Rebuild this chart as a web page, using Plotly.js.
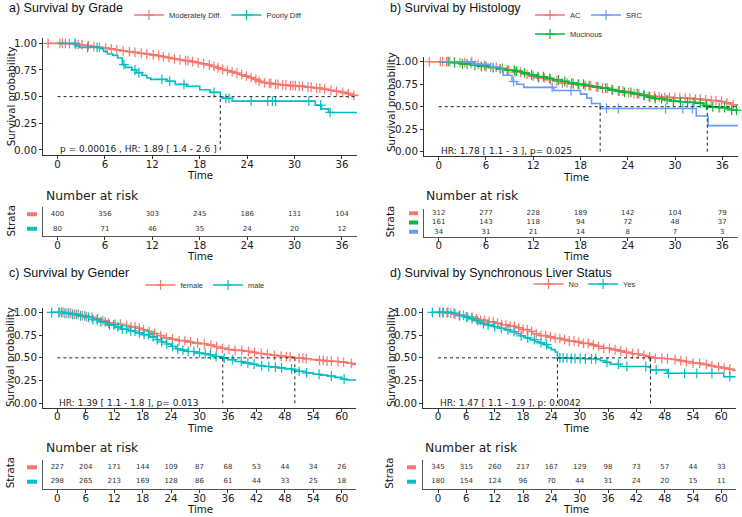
<!DOCTYPE html>
<html>
<head>
<meta charset="utf-8">
<script src="https://cdn.plot.ly/plotly-3.0.1.min.js"></script>
<style>
  html, body { margin: 0; padding: 0; background: #fff; }
  #chart { width: 742px; height: 517px; }
</style>
</head>
<body>
<div id="chart"></div>
<script>
// ---------- Kaplan-Meier estimates (months, survival probability) ----------

// a) Grade
const gradeModTime = [-1.3, 1.2, 2.0, 2.8, 3.5, 4.3, 5.0, 5.8, 6.5, 7.2, 8.0, 8.8, 9.5, 10.3, 11.0, 11.8, 12.5, 13.2, 13.9, 14.6, 15.3, 16.0, 16.8, 17.5, 18.2, 18.9, 19.5, 20.1, 20.6, 21.2, 21.8, 22.4, 23.0, 23.6, 24.2, 24.8, 25.3, 25.8, 26.5, 27.3, 28.2, 29.2, 30.3, 31.4, 32.5, 33.5, 34.3, 35.0, 35.8, 36.5, 37.2, 37.9];
const gradeModSurv = [1.0, 0.997, 0.99, 0.985, 0.978, 0.97, 0.962, 0.955, 0.948, 0.94, 0.93, 0.922, 0.915, 0.907, 0.9, 0.892, 0.884, 0.875, 0.866, 0.855, 0.846, 0.838, 0.828, 0.818, 0.808, 0.797, 0.783, 0.77, 0.757, 0.745, 0.732, 0.72, 0.706, 0.692, 0.678, 0.662, 0.646, 0.632, 0.624, 0.616, 0.61, 0.603, 0.596, 0.588, 0.58, 0.57, 0.56, 0.55, 0.54, 0.528, 0.512, 0.506];
const gradeModCens = [-1.2, 0.3, 0.6, 1.0, 1.5, 2.3, 2.6, 3.1, 3.9, 4.6, 5.3, 6.1, 6.8, 7.5, 8.3, 9.1, 9.8, 10.6, 11.3, 12.1, 12.8, 13.4, 14.1, 14.8, 15.5, 16.2, 16.5, 17.1, 17.8, 18.5, 19.2, 19.8, 20.3, 20.9, 21.5, 22.1, 22.7, 23.3, 23.9, 24.5, 25.1, 25.5, 26.2, 26.8, 27.0, 27.6, 27.9, 28.5, 28.9, 29.5, 29.8, 30.1, 30.6, 31.0, 31.7, 32.1, 32.8, 33.2, 33.8, 34.6, 35.3, 36.1, 36.8, 37.5];
const gradePoorTime = [0, 2.3, 2.8, 5.3, 5.8, 6.3, 7.0, 7.6, 8.2, 8.6, 9.4, 10.0, 10.7, 11.3, 11.8, 13.9, 14.9, 16.3, 18.0, 19.3, 20.6, 21.0, 22.1, 32.6, 33.4, 34.3, 37.9];
const gradePoorSurv = [1.0, 0.975, 0.962, 0.95, 0.925, 0.9, 0.887, 0.862, 0.8, 0.775, 0.75, 0.725, 0.7, 0.675, 0.662, 0.645, 0.615, 0.597, 0.565, 0.54, 0.497, 0.483, 0.458, 0.42, 0.385, 0.352, 0.352];
const gradePoorCens = [2.2, 3.8, 5.0, 8.4, 9.8, 10.3, 13.2, 14.2, 16.0, 19.8, 21.3, 21.7, 24.5, 26.6, 27.2, 27.6, 31.8, 33.3, 34.5];

// b) Histology
const histACTime = [-1.4, 1.5, 2.5, 3.5, 4.5, 5.5, 6.5, 7.5, 8.5, 9.5, 10.5, 11.5, 12.5, 13.5, 14.5, 15.5, 16.5, 17.5, 18.5, 19.5, 20.5, 21.5, 22.5, 23.5, 24.5, 25.5, 26.5, 27.5, 28.5, 29.5, 30.5, 31.5, 32.5, 33.5, 34.5, 35.5, 36.5, 37.3, 38.0];
const histACSurv = [1.0, 0.995, 0.99, 0.98, 0.97, 0.955, 0.94, 0.925, 0.905, 0.885, 0.86, 0.84, 0.82, 0.8, 0.782, 0.765, 0.752, 0.742, 0.732, 0.72, 0.705, 0.688, 0.672, 0.656, 0.642, 0.628, 0.618, 0.61, 0.604, 0.6, 0.596, 0.592, 0.585, 0.576, 0.568, 0.558, 0.543, 0.522, 0.518];
const histACCens = [-1.2, 0.2, 0.5, 1.0, 1.4, 2.0, 2.7, 3.3, 4.1, 5.0, 5.8, 6.6, 7.3, 8.1, 8.9, 9.7, 10.4, 11.2, 12.0, 12.7, 13.4, 14.2, 15.0, 15.7, 16.3, 17.1, 17.8, 18.6, 19.3, 20.0, 20.8, 21.4, 22.1, 22.8, 23.4, 24.1, 24.8, 25.4, 26.0, 26.7, 27.4, 28.0, 28.7, 29.3, 30.0, 30.6, 31.3, 31.9, 32.6, 33.2, 33.9, 34.6, 35.2, 35.9, 36.6, 37.4];
const histMucTime = [0, 1.5, 2.8, 4.0, 5.2, 6.3, 7.4, 8.5, 9.8, 10.6, 11.5, 12.5, 13.5, 14.5, 15.5, 16.5, 17.5, 18.5, 19.5, 20.5, 21.5, 22.5, 23.5, 24.5, 25.5, 26.5, 27.5, 28.5, 29.5, 30.5, 31.5, 32.5, 33.6, 34.1, 35.5, 36.5, 37.2, 38.0];
const histMucSurv = [1.0, 0.99, 0.975, 0.96, 0.948, 0.935, 0.92, 0.905, 0.895, 0.875, 0.855, 0.835, 0.815, 0.798, 0.782, 0.765, 0.75, 0.735, 0.72, 0.706, 0.69, 0.675, 0.66, 0.645, 0.625, 0.605, 0.59, 0.578, 0.563, 0.555, 0.548, 0.54, 0.515, 0.498, 0.49, 0.478, 0.463, 0.463];
const histMucCens = [1.2, 2.0, 3.0, 3.6, 4.6, 5.4, 6.0, 6.9, 7.8, 8.7, 9.6, 9.9, 10.9, 11.8, 12.6, 13.3, 14.1, 15.2, 16.0, 16.9, 17.7, 18.4, 19.1, 20.2, 21.2, 22.0, 22.9, 23.6, 24.4, 25.2, 26.1, 26.8, 27.5, 28.3, 29.0, 29.8, 30.7, 31.6, 32.4, 33.2, 34.0, 34.8, 35.6, 36.3, 37.2, 37.8];
const histSRCTime = [0, 4.4, 6.5, 7.9, 8.2, 9.3, 9.9, 10.8, 14.6, 18.0, 18.8, 19.4, 20.5, 32.7, 34.2, 38.0];
const histSRCSurv = [1.0, 0.97, 0.94, 0.91, 0.85, 0.78, 0.75, 0.715, 0.68, 0.64, 0.595, 0.535, 0.48, 0.396, 0.29, 0.29];
const histSRCCens = [4.2, 9.5, 14.4, 16.8, 21.3, 22.8, 28.8, 31.0, 32.2];

// c) Gender
const femaleTime = [0, 1.5, 3.0, 4.5, 6.0, 7.5, 9.0, 10.5, 12.0, 13.5, 15.0, 16.5, 18.0, 19.0, 19.8, 21.0, 22.5, 24.0, 25.5, 27.0, 28.5, 30.0, 31.5, 33.0, 34.5, 36.0, 37.5, 39.0, 40.5, 42.0, 43.5, 45.0, 46.5, 48.0, 49.5, 50.1, 52.0, 53.5, 55.0, 56.5, 58.0, 59.5, 61.0, 62.2, 63.0];
const femaleSurv = [1.0, 0.99, 0.978, 0.965, 0.948, 0.93, 0.91, 0.885, 0.87, 0.855, 0.84, 0.825, 0.808, 0.79, 0.768, 0.745, 0.72, 0.705, 0.69, 0.675, 0.665, 0.655, 0.64, 0.622, 0.605, 0.592, 0.582, 0.572, 0.56, 0.548, 0.538, 0.528, 0.52, 0.512, 0.505, 0.497, 0.49, 0.48, 0.472, 0.465, 0.46, 0.452, 0.44, 0.428, 0.428];
const femaleCens = [0.5, 1.2, 2.0, 2.8, 3.6, 4.4, 5.3, 6.2, 7.3, 8.5, 9.6, 10.8, 12.2, 13.3, 14.6, 15.5, 16.4, 17.3, 18.2, 19.4, 20.5, 21.8, 23.0, 24.3, 25.7, 26.9, 28.1, 29.6, 31.0, 32.4, 33.6, 34.8, 36.2, 37.5, 38.9, 40.3, 41.6, 43.0, 44.3, 45.8, 47.2, 48.3, 49.1, 51.0, 51.8, 52.5, 55.3, 56.1, 56.9, 57.8, 59.2, 60.4, 62.0];
const maleTime = [-1.5, 1.5, 3.0, 4.5, 6.0, 7.5, 9.0, 10.5, 12.0, 13.5, 15.0, 16.5, 18.0, 19.5, 21.0, 22.0, 23.0, 24.0, 25.0, 26.0, 27.5, 29.0, 30.5, 32.0, 33.5, 34.9, 36.0, 37.5, 39.0, 40.5, 42.0, 43.5, 45.0, 46.5, 48.0, 49.5, 51.0, 52.5, 54.0, 55.5, 57.0, 58.5, 60.0, 61.0, 63.0];
const maleSurv = [1.0, 0.99, 0.978, 0.962, 0.945, 0.92, 0.895, 0.862, 0.84, 0.815, 0.795, 0.775, 0.755, 0.73, 0.7, 0.675, 0.652, 0.625, 0.6, 0.585, 0.57, 0.555, 0.545, 0.532, 0.515, 0.497, 0.48, 0.46, 0.445, 0.43, 0.415, 0.405, 0.398, 0.39, 0.378, 0.366, 0.352, 0.335, 0.32, 0.31, 0.3, 0.285, 0.265, 0.256, 0.256];
const maleCens = [-1.2, 0.3, 0.9, 1.6, 2.4, 3.2, 4.0, 4.9, 5.8, 6.6, 7.5, 8.4, 9.2, 10.1, 11.0, 11.9, 12.8, 13.7, 14.6, 15.5, 16.4, 17.3, 18.3, 19.2, 20.2, 21.1, 22.0, 23.1, 24.3, 25.4, 26.5, 27.6, 28.8, 30.0, 31.2, 32.3, 33.5, 35.2, 37.0, 38.8, 40.2, 41.5, 43.1, 44.6, 46.0, 47.3, 49.4, 51.0, 52.6, 55.2, 57.8, 60.5];

// d) Synchronous liver metastasis
const liverNoTime = [0, 1.5, 3.0, 4.5, 6.0, 7.5, 9.0, 10.5, 12.0, 13.5, 15.0, 16.5, 18.0, 19.0, 20.0, 21.5, 23.0, 24.5, 26.0, 27.5, 29.0, 30.5, 32.0, 33.5, 35.0, 36.5, 38.0, 39.5, 41.0, 42.5, 44.0, 45.0, 46.5, 48.0, 49.5, 51.0, 52.5, 54.0, 55.5, 57.0, 58.5, 60.0, 61.5, 62.5, 63.0];
const liverNoSurv = [1.0, 0.993, 0.982, 0.968, 0.948, 0.928, 0.912, 0.895, 0.88, 0.864, 0.848, 0.83, 0.81, 0.79, 0.765, 0.745, 0.73, 0.714, 0.7, 0.685, 0.672, 0.658, 0.643, 0.625, 0.605, 0.59, 0.575, 0.56, 0.545, 0.528, 0.513, 0.498, 0.495, 0.49, 0.482, 0.47, 0.458, 0.443, 0.428, 0.413, 0.4, 0.388, 0.375, 0.362, 0.362];
const liverNoCens = [0.4, 1.1, 1.9, 2.7, 3.6, 4.5, 5.4, 6.3, 7.2, 8.1, 9.0, 9.9, 10.8, 11.7, 12.6, 13.5, 14.4, 15.3, 16.2, 17.1, 18.0, 18.9, 19.8, 20.8, 21.8, 22.8, 23.8, 24.8, 25.8, 26.8, 27.8, 28.8, 29.8, 30.8, 31.8, 32.9, 34.0, 35.1, 36.3, 37.5, 38.7, 39.9, 41.2, 42.4, 43.6, 44.8, 46.0, 47.4, 48.6, 50.2, 51.4, 52.6, 54.0, 55.4, 56.8, 58.0, 59.4, 60.6, 61.8];
const liverYesTime = [-1.4, 3.0, 4.5, 5.5, 6.5, 7.5, 8.5, 9.5, 10.5, 11.8, 13.0, 14.2, 15.3, 16.5, 17.5, 18.5, 19.5, 20.5, 21.5, 22.5, 23.3, 24.0, 24.8, 25.3, 28.0, 31.0, 33.7, 34.4, 35.5, 36.5, 38.6, 44.5, 45.0, 48.5, 60.5, 63.0];
const liverYesSurv = [1.0, 0.99, 0.965, 0.95, 0.93, 0.91, 0.89, 0.875, 0.86, 0.842, 0.825, 0.808, 0.788, 0.765, 0.742, 0.72, 0.7, 0.68, 0.665, 0.645, 0.612, 0.59, 0.565, 0.498, 0.493, 0.49, 0.483, 0.47, 0.45, 0.43, 0.405, 0.398, 0.368, 0.33, 0.293, 0.293];
const liverYesCens = [-1.2, 0.3, 1.0, 2.1, 3.4, 4.6, 6.0, 7.2, 8.4, 9.6, 10.6, 12.0, 13.4, 14.8, 16.1, 17.6, 19.0, 20.4, 21.8, 23.0, 25.8, 26.5, 27.3, 28.2, 29.0, 30.1, 31.2, 32.5, 33.4, 35.8, 38.2, 40.0, 44.0, 46.2, 48.8, 52.2, 54.8, 58.0, 61.8];

// ---------- Number at risk ----------
const riskTimesShort = [0, 6, 12, 18, 24, 30, 36];
const riskTimesLong = [0, 6, 12, 18, 24, 30, 36, 42, 48, 54, 60];
const riskGradeMod = [400, 356, 303, 245, 186, 131, 104];
const riskGradePoor = [80, 71, 46, 35, 24, 20, 12];
const riskHistAC = [312, 277, 228, 189, 142, 104, 79];
const riskHistMuc = [161, 143, 118, 94, 72, 48, 37];
const riskHistSRC = [34, 31, 21, 14, 8, 7, 3];
const riskFemale = [227, 204, 171, 144, 109, 87, 68, 53, 44, 34, 26];
const riskMale = [298, 265, 213, 169, 128, 86, 61, 44, 33, 25, 18];
const riskLiverNo = [345, 315, 260, 217, 167, 129, 98, 73, 57, 44, 33];
const riskLiverYes = [180, 154, 124, 96, 70, 44, 31, 24, 20, 15, 11];

// ---------- Medians (null = not reached) and test statistics ----------
const medGrade = [null, 20.6];
const medHist = [null, 34.1, 20.5];
const medGender = [50.1, 34.9];
const medLiver = [45.0, 25.3];
const statGrade = 'p = 0.00016 , HR: 1.89 [ 1.4 - 2.6 ]';
const statHist = 'HR: 1.78 [ 1.1 - 3 ], p= 0.025';
const statGender = 'HR: 1.39 [ 1.1 - 1.8 ], p= 0.013';
const statLiver = 'HR: 1.47 [ 1.1 - 1.9 ], p: 0.0042';

const probTicks = [0, 0.25, 0.5, 0.75, 1];
const probLabels = ['0.00', '0.25', '0.50', '0.75', '1.00'];

// ---------- styling ----------
const RED = '#F8766D', TEAL = '#00BFC4', GREEN = '#00BA38', BLUE = '#619CFF';
const FONT = 'DejaVu Sans, sans-serif';
const TITLE_FONT = 'Liberation Sans, Arial, sans-serif';
const W = 742, H = 517;
const fx = v => v / W;          // pixel -> paper x
const fy = v => 1 - v / H;      // pixel -> paper y

function stepAt(ts, ss, t) {
  let v = ss[0];
  for (let i = 0; i < ts.length; i++) { if (ts[i] <= t) v = ss[i]; }
  return v;
}

const panels = [
  {
    title: 'a) Survival by Grade', stat: statGrade, medians: medGrade, riskTimes: riskTimesShort,
    strata: [
      { name: 'Moderately Diff.', color: RED, t: gradeModTime, s: gradeModSurv, c: gradeModCens, risk: riskGradeMod, legend: 'legend' },
      { name: 'Poorly Diff', color: TEAL, t: gradePoorTime, s: gradePoorSurv, c: gradePoorCens, risk: riskGradePoor, legend: 'legend' }
    ],
    xDom: [43, 357], xRange: [-1.84, 37.9], kmY: [38, 155.3], tblY: [207, 236], swatch: [-16, -6],
    titlePos: [7, 8], yTitle: [10.5, 96.7], xTitle: [200, 175], nar: [44, 195], strataPos: [10, 221.5], tblXTitle: [200, 256]
  },
  {
    title: 'b) Survival by Histology', stat: statHist, medians: medHist, riskTimes: riskTimesShort,
    strata: [
      { name: 'AC', color: RED, t: histACTime, s: histACSurv, c: histACCens, risk: riskHistAC, legend: 'legend2' },
      { name: 'Mucinous', color: GREEN, t: histMucTime, s: histMucSurv, c: histMucCens, risk: riskHistMuc, legend: 'legend3' },
      { name: 'SRC', color: BLUE, t: histSRCTime, s: histSRCSurv, c: histSRCCens, risk: riskHistSRC, legend: 'legend2' }
    ],
    xDom: [424, 738], xRange: [-1.87, 38.0], kmY: [57.2, 156.2], tblY: [208.6, 236.5], swatch: [-15, -6],
    titlePos: [387.7, 8], yTitle: [391, 102], xTitle: [576, 176.5], nar: [424, 195], strataPos: [389.5, 221.7], tblXTitle: [576, 256]
  },
  {
    title: 'c) Survival by Gender', stat: statGender, medians: medGender, riskTimes: riskTimesLong,
    strata: [
      { name: 'female', color: RED, t: femaleTime, s: femaleSurv, c: femaleCens, risk: riskFemale, legend: 'legend4' },
      { name: 'male', color: TEAL, t: maleTime, s: maleSurv, c: maleCens, risk: riskMale, legend: 'legend4' }
    ],
    xDom: [43, 356], xRange: [-3.02, 63.0], kmY: [307.8, 407.9], tblY: [460.1, 488.9], swatch: [-16, -6],
    titlePos: [7, 273.3], yTitle: [10, 357], xTitle: [200, 428], nar: [44, 447.3], strataPos: [10, 473.3], tblXTitle: [200, 509]
  },
  {
    title: 'd) Survival by Synchronous Liver Status', stat: statLiver, medians: medLiver, riskTimes: riskTimesLong,
    strata: [
      { name: 'No', color: RED, t: liverNoTime, s: liverNoSurv, c: liverNoCens, risk: riskLiverNo, legend: 'legend5' },
      { name: 'Yes', color: TEAL, t: liverYesTime, s: liverYesSurv, c: liverYesCens, risk: riskLiverYes, legend: 'legend5' }
    ],
    xDom: [423, 736], xRange: [-3.18, 63.1], kmY: [307.8, 407.9], tblY: [460.1, 488.9], swatch: [-16, -7],
    titlePos: [387.7, 273.3], yTitle: [391, 357], xTitle: [576, 428], nar: [423.3, 447.3], strataPos: [389.5, 473.3], tblXTitle: [576, 509]
  }
];

const traces = [];
const annotations = [];
const shapes = [];
const layout = {
  width: W, height: H,
  margin: { l: 0, r: 0, t: 0, b: 0, pad: 0 },
  paper_bgcolor: '#fff', plot_bgcolor: '#fff',
  showlegend: true,
  font: { family: FONT, color: '#222' },
  annotations: annotations,
  shapes: shapes
};

const tickFont = { family: FONT, size: 10.3, color: '#222' };
function baseAxis() {
  return {
    showgrid: false, zeroline: false, showline: true, linecolor: '#333', linewidth: 1,
    ticks: 'outside', ticklen: 3, tickwidth: 1, tickcolor: '#333',
    tickfont: tickFont, fixedrange: true
  };
}

function addText(text, x, y, opts) {
  annotations.push(Object.assign({
    text: text, x: fx(x), y: fy(y), xref: 'paper', yref: 'paper',
    showarrow: false, xanchor: 'center', yanchor: 'middle',
    font: { family: FONT, size: 10.3, color: '#111' }
  }, opts || {}));
}

panels.forEach((p, i) => {
  const kmN = 2 * i + 1, tbN = 2 * i + 2;
  const kx = kmN === 1 ? 'x' : 'x' + kmN, ky = kmN === 1 ? 'y' : 'y' + kmN;
  const tx = 'x' + tbN, ty = 'y' + tbN;
  const kxName = kmN === 1 ? 'xaxis' : 'xaxis' + kmN, kyName = kmN === 1 ? 'yaxis' : 'yaxis' + kmN;
  const n = p.strata.length;
  const domW = p.xDom[1] - p.xDom[0];

  layout[kxName] = Object.assign(baseAxis(), {
    domain: [fx(p.xDom[0]), fx(p.xDom[1])], range: p.xRange, anchor: ky, tickvals: p.riskTimes,
    ticklabelstandoff: -4
  });
  layout[kyName] = Object.assign(baseAxis(), {
    domain: [fy(p.kmY[1]), fy(p.kmY[0])], range: [-0.05, 1.05], anchor: kx,
    tickvals: probTicks, ticktext: probLabels
  });
  layout['xaxis' + tbN] = Object.assign(baseAxis(), {
    domain: [fx(p.xDom[0]), fx(p.xDom[1])], range: p.xRange, anchor: ty, tickvals: p.riskTimes,
    linecolor: '#555', linewidth: 1.3, ticklabelstandoff: -4
  });
  layout['yaxis' + tbN] = Object.assign(baseAxis(), {
    domain: [fy(p.tblY[1]), fy(p.tblY[0])], range: [0.5, n + 0.5], anchor: tx,
    showticklabels: false, ticks: '', linecolor: '#555', linewidth: 1.3
  });

  // colour keys for the table rows
  p.strata.forEach((s, k) => {
    shapes.push({
      type: 'rect', xref: tx + ' domain', yref: ty,
      x0: p.swatch[0] / domW, x1: p.swatch[1] / domW,
      ysizemode: 'pixel', yanchor: n - k, y0: -2, y1: 2,
      fillcolor: s.color, line: { width: 0 }, layer: 'above'
    });
  });

  // survival curves and censoring marks
  p.strata.forEach(s => {
    traces.push({
      x: s.t, y: s.s, xaxis: kx, yaxis: ky, mode: 'lines',
      line: { shape: 'hv', color: s.color, width: 1.6 },
      showlegend: false, hoverinfo: 'skip'
    });
    traces.push({
      x: s.c, y: s.c.map(t => stepAt(s.t, s.s, t)), xaxis: kx, yaxis: ky, mode: 'markers',
      marker: { symbol: 'cross-thin-open', size: 7, color: s.color, line: { color: s.color, width: 1.2 } },
      showlegend: false, hoverinfo: 'skip', cliponaxis: false
    });
  });

  // median survival guides
  const meds = p.medians.filter(m => m !== null);
  const lastTime = Math.max(...p.strata.map(s => s.t[s.t.length - 1]));
  const hEnd = meds.length === p.medians.length ? Math.max(...meds) : lastTime;
  const dashStyle = { color: '#222', width: 1, dash: '3px,3px' };
  traces.push({ x: [0, hEnd], y: [0.5, 0.5], xaxis: kx, yaxis: ky, mode: 'lines', line: dashStyle, showlegend: false, hoverinfo: 'skip' });
  meds.forEach(m => {
    traces.push({ x: [m, m], y: [0, 0.5], xaxis: kx, yaxis: ky, mode: 'lines', line: dashStyle, showlegend: false, hoverinfo: 'skip' });
  });

  // legend keys
  p.strata.forEach(s => {
    traces.push({
      x: [null], y: [null], xaxis: kx, yaxis: ky, mode: 'lines+markers', name: s.name, legend: s.legend,
      line: { color: s.color, width: 1.6 },
      marker: { symbol: 'cross-thin-open', size: 7, color: s.color, line: { color: s.color, width: 1.2 } },
      showlegend: true, hoverinfo: 'skip'
    });
  });

  // number at risk table
  p.strata.forEach((s, k) => {
    traces.push({
      x: p.riskTimes, y: p.riskTimes.map(() => n - k), xaxis: tx, yaxis: ty, mode: 'text',
      text: s.risk.map(String), textposition: 'middle center',
      textfont: { family: FONT, size: 7, color: '#333' },
      showlegend: false, hoverinfo: 'skip', cliponaxis: false
    });
  });

  // statistic label inside the plot
  annotations.push({
    text: p.stat, x: 0, y: 0.005, xref: kx, yref: ky, xanchor: 'left', yanchor: 'middle',
    showarrow: false, font: { family: FONT, size: 9, color: '#222' }
  });

  addText(p.title, p.titlePos[0], p.titlePos[1], { xanchor: 'left', font: { family: TITLE_FONT, size: 12.5, color: '#111' } });
  addText('Survival probability', p.yTitle[0], p.yTitle[1], { textangle: -90, font: { family: FONT, size: 10.3, color: '#111' } });
  addText('Time', p.xTitle[0], p.xTitle[1]);
  addText('Number at risk', p.nar[0], p.nar[1], { xanchor: 'left', font: { family: FONT, size: 12.4, color: '#222' } });
  addText('Strata', p.strataPos[0], p.strataPos[1], { textangle: -90 });
  addText('Time', p.tblXTitle[0], p.tblXTitle[1]);
});

// one legend per panel (histology uses two rows)
const legendBase = {
  orientation: 'h', xanchor: 'center', yanchor: 'middle', bgcolor: 'rgba(0,0,0,0)',
  font: { family: TITLE_FONT, size: 7.5, color: '#333' }, itemwidth: 30, tracegroupgap: 0
};
layout.legend = Object.assign({}, legendBase, { x: fx(218), y: fy(15) });
layout.legend2 = Object.assign({}, legendBase, { xanchor: 'left', x: fx(530), y: fy(15) });
layout.legend3 = Object.assign({}, legendBase, { xanchor: 'left', x: fx(530), y: fy(34) });
layout.legend4 = Object.assign({}, legendBase, { x: fx(205), y: fy(285) });
layout.legend5 = Object.assign({}, legendBase, { x: fx(585), y: fy(284) });

Plotly.newPlot('chart', traces, layout, { staticPlot: true, displayModeBar: false });
</script>
</body>
</html>
